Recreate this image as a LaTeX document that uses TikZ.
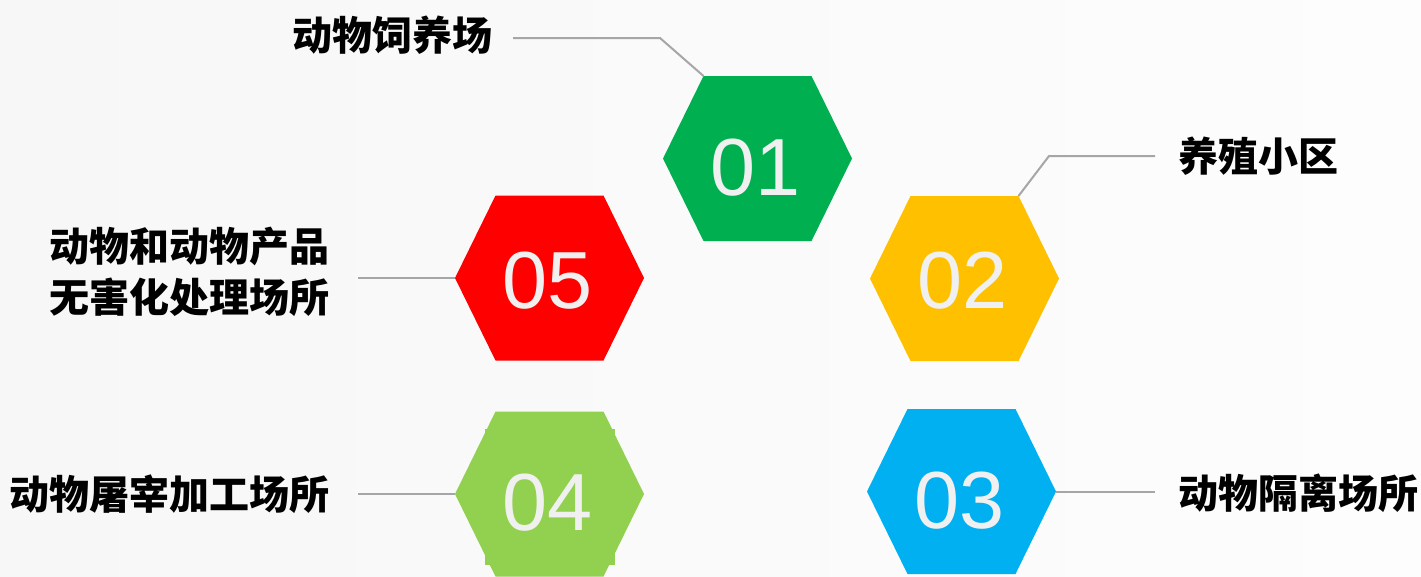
\documentclass[tikz,border=0pt]{standalone}
\usepackage{fontspec}
\setmainfont{Liberation Sans}
\newfontfamily\cjk{Noto Sans CJK SC}
\definecolor{hgreen}{HTML}{00B050}
\definecolor{hyellow}{HTML}{FFC000}
\definecolor{hblue}{HTML}{00B0F0}
\definecolor{hred}{HTML}{FF0000}
\definecolor{hlime}{HTML}{92D050}
\definecolor{lgray}{HTML}{A6A6A6}
\definecolor{digit}{HTML}{F0F0F0}
\definecolor{bgleft}{HTML}{F7F7F7}
\definecolor{bgright}{HTML}{FDFDFD}
\begin{document}
\begin{tikzpicture}[x=1pt,y=-1pt,
  connector/.style={draw=lgray,line width=2pt},
  numtext/.style={text=digit,font=\fontsize{81}{81}\selectfont,inner sep=0pt,anchor=base},
  label/.style={font=\cjk\bfseries\fontsize{40}{51}\selectfont,text=black,inner sep=0pt}]
\shade[left color=bgleft,right color=bgright] (0,0) rectangle (1421,576);
\useasboundingbox (0,0) rectangle (1421,576);
% small block behind hexagon 04 (visible at its corners)
\fill[hlime] (485,429) rectangle (615,565);
% hexagons: name/cx/cy/color/digit offset
\foreach \n/\cx/\cy/\col/\t/\dy in {h1/757.5/158.5/hgreen/01/37, h2/964.5/278.5/hyellow/02/30, h5/549.5/278/hred/05/30, h4/549.5/494/hlime/04/36, h3/961.5/491.5/hblue/03/37}{
  \coordinate (\n-l) at (\cx-94.5,\cy);
  \coordinate (\n-r) at (\cx+94.5,\cy);
  \coordinate (\n-tl) at (\cx-54,\cy-82.5);
  \coordinate (\n-tr) at (\cx+54,\cy-82.5);
  \coordinate (\n-bl) at (\cx-54,\cy+82.5);
  \coordinate (\n-br) at (\cx+54,\cy+82.5);
  \fill[\col] (\n-l) -- (\n-tl) -- (\n-tr) -- (\n-r) -- (\n-br) -- (\n-bl) -- cycle;
  \node[numtext] (\n-num) at (\cx-2,\cy+\dy) {\t};
}
% labels
\node[label,anchor=base east] (t1) at (493,50) {动物饲养场};
\node[label,anchor=base west] (t2) at (1178,171) {养殖小区};
\node[label,anchor=east,align=right] (t5) at (330,272) {动物和动物产品\\无害化处理场所};
\node[label,anchor=base east] (t4) at (330,509) {动物屠宰加工场所};
\node[label,anchor=base west] (t3) at (1178,508) {动物隔离场所};
% connectors
\coordinate (c1s) at (513,38);
\coordinate (c1m) at (660,38);
\draw[connector] (c1s) -- (c1m) -- (h1-tl);
\coordinate (c2m) at (1049,156);
\coordinate (c2e) at (1155,156);
\draw[connector] (h2-tr) -- (c2m) -- (c2e);
\coordinate (c5s) at (358,278);
\draw[connector] (c5s) -- (h5-l);
\coordinate (c4s) at (358,494);
\draw[connector] (c4s) -- (h4-l);
\coordinate (c3e) at (1155,491.5);
\draw[connector] (h3-r) -- (c3e);
\end{tikzpicture}
\end{document}
